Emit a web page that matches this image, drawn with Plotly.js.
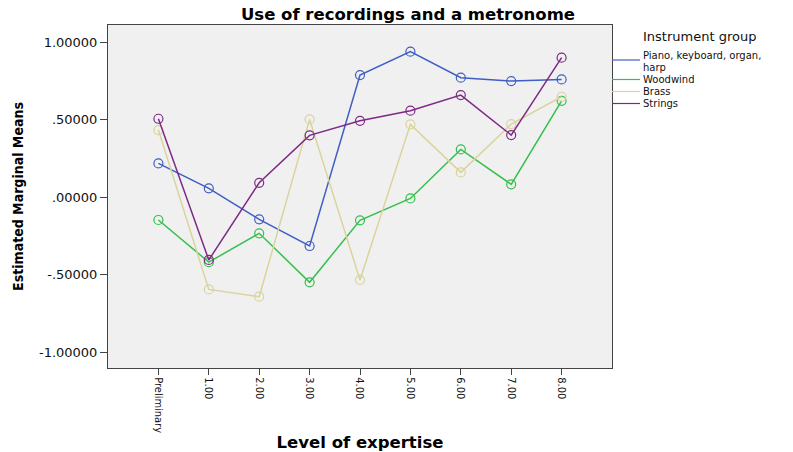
<!DOCTYPE html>
<html>
<head>
<meta charset="utf-8">
<script src="https://cdn.plot.ly/plotly-3.0.1.min.js"></script>
<style>
html,body{margin:0;padding:0;background:#fff;}
#chart{width:793px;height:452px;}
</style>
</head>
<body>
<div id="chart"></div>
<script>
const categories = ["Preliminary", "1.00", "2.00", "3.00", "4.00", "5.00", "6.00", "7.00", "8.00"];
const seriesNames = ["Piano, keyboard, organ, harp", "Woodwind", "Brass", "Strings"];
const piano    = [0.217, 0.056, -0.144, -0.316, 0.787, 0.938, 0.770, 0.748, 0.759];
const woodwind = [-0.148, -0.420, -0.234, -0.550, -0.150, -0.009, 0.307, 0.082, 0.621];
const brass    = [0.432, -0.596, -0.643, 0.501, -0.535, 0.469, 0.159, 0.471, 0.647];
const strings  = [0.505, -0.406, 0.092, 0.398, 0.492, 0.557, 0.658, 0.400, 0.899];
const yTickVals = [1, 0.5, 0, -0.5, -1];
const yTickText = ["1.00000", ".50000", ".00000", "-.50000", "-1.00000"];
const colors = ["#3f5ec4", "#35bf4c", "#d9d49c", "#7e2a85"];

const seriesValues = [piano, woodwind, brass, strings];
const traces = seriesValues.map((vals, i) => ({
  type: "scatter",
  mode: "lines+markers",
  x: categories,
  y: vals,
  name: seriesNames[i],
  showlegend: false,
  line: {color: colors[i], width: 1.5},
  marker: {symbol: "circle-open", size: 9, color: colors[i], line: {width: 1.2, color: colors[i]}},
  hoverinfo: "x+y+name"
}));

// legend drawn as shapes + text (tight SPSS-style spacing)
const plotW = 504, plotH = 343;
const legendRowsPx = [60, 79.5, 91.5, 103.5];   // pixel rows from top of figure
const textRowsPx = [55.5, 79.5, 91.5, 103.5];
const plotTop = 25;
const toPaperY = py => (plotTop + plotH - py) / plotH;
const shapes = legendRowsPx.map((py, i) => ({
  type: "line", xref: "paper", yref: "paper",
  x0: 1.0, x1: 1 + 28 / plotW, y0: toPaperY(py), y1: toPaperY(py),
  line: {color: colors[i], width: 1.2}
}));
const legendFont = {family: "DejaVu Sans, sans-serif", size: 10, color: "#111"};
const legendLabels = ["Piano, keyboard, organ,", "Woodwind", "Brass", "Strings"];
const annotations = legendLabels.map((t, i) => ({
  text: t, xref: "paper", yref: "paper", x: 1 + 29 / plotW, y: toPaperY(textRowsPx[i]),
  xanchor: "left", yanchor: "middle", showarrow: false, font: legendFont
}));
annotations.push({
  text: "harp", xref: "paper", yref: "paper", x: 1 + 29 / plotW, y: toPaperY(67.5),
  xanchor: "left", yanchor: "middle", showarrow: false, font: legendFont
});
annotations.push({
  text: "Instrument group", xref: "paper", yref: "paper", x: 1 + 29 / plotW, y: toPaperY(37),
  xanchor: "left", yanchor: "middle", showarrow: false,
  font: {family: "DejaVu Sans, sans-serif", size: 13, color: "#111"}
});

const layout = {
  width: 793, height: 452,
  margin: {l: 108, r: 181, t: 25, b: 84},
  paper_bgcolor: "#ffffff",
  plot_bgcolor: "#f0f0f0",
  title: {
    text: "<b>Use of recordings and a metronome</b>",
    font: {family: "DejaVu Sans, sans-serif", size: 16.5, color: "#000"},
    xref: "container", x: 408 / 793, xanchor: "center",
    yref: "container", y: 1 - 14 / 452, yanchor: "middle"
  },
  xaxis: {
    type: "category",
    range: [-1, 9],
    showgrid: false, zeroline: false,
    showline: true, mirror: true, linecolor: "#444", linewidth: 1,
    ticks: "outside", ticklen: 6, tickcolor: "#444",
    tickangle: 90,
    tickfont: {family: "Liberation Sans Narrow, DejaVu Sans Condensed, sans-serif", size: 11, color: "#111"},
    title: {
      text: "<b>Level of expertise</b>",
      font: {family: "DejaVu Sans, sans-serif", size: 16.5, color: "#000"},
      standoff: 9
    },
    fixedrange: true
  },
  yaxis: {
    range: [-1.103, 1.11],
    tickvals: yTickVals, ticktext: yTickText,
    showgrid: false, zeroline: false,
    showline: true, mirror: true, linecolor: "#444", linewidth: 1,
    ticks: "outside", ticklen: 7, tickcolor: "#444",
    tickfont: {family: "DejaVu Sans, sans-serif", size: 13, color: "#111"},
    title: {
      text: "<b>Estimated Marginal Means</b>",
      font: {family: "Liberation Sans Narrow, DejaVu Sans Condensed, sans-serif", size: 14, color: "#000"},
      standoff: 12
    },
    fixedrange: true
  },
  shapes: shapes,
  annotations: annotations,
  showlegend: false
};

Plotly.newPlot("chart", traces, layout, {displayModeBar: false, staticPlot: true});
</script>
</body>
</html>
